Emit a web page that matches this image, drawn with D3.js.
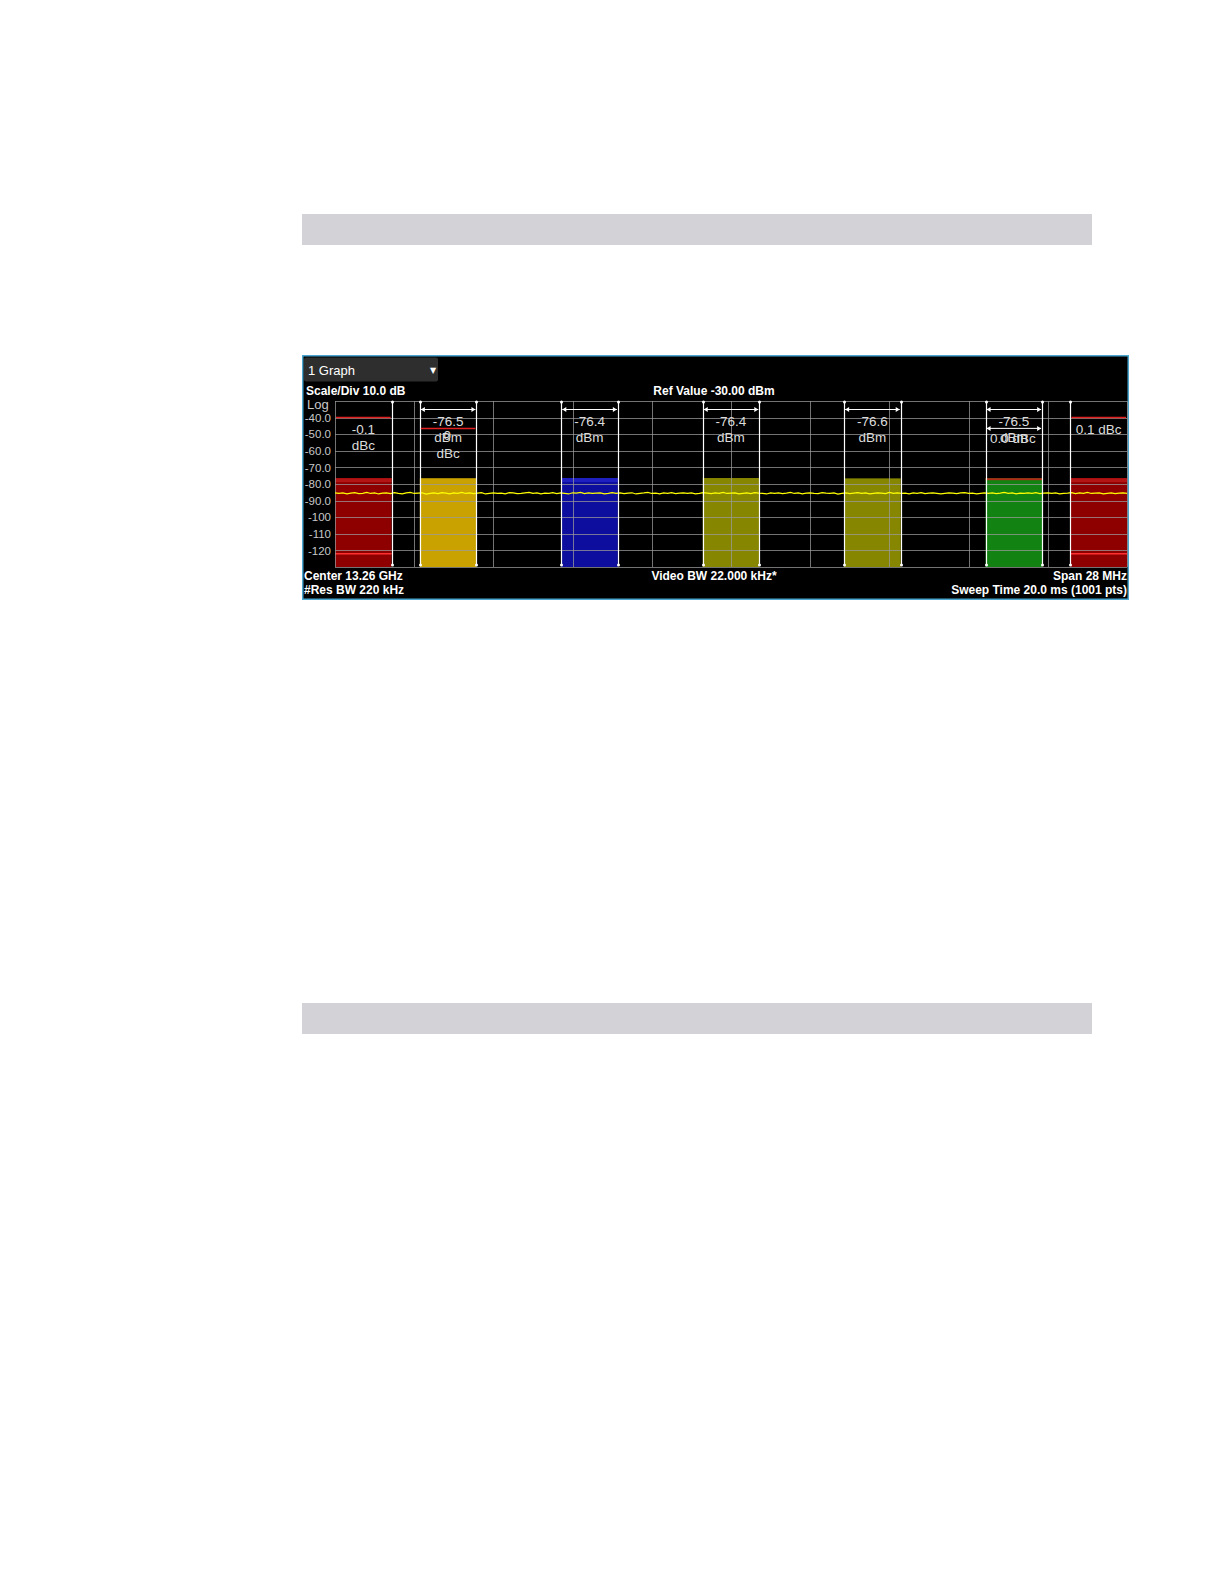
<!DOCTYPE html>
<meta charset="utf-8">
<script src="https://d3js.org/d3.v7.min.js"></script>
<style>
  body { margin: 0; background: #fff; }
</style>
<div id="vis"></div>
<script type="text/javascript">

// display settings
var refValue = -30,
    scaleDiv = 10,
    spanMHz = 28;

var yTicks = [-40, -50, -60, -70, -80, -90, -100, -110, -120];
var yTickLabels = ["-40.0", "-50.0", "-60.0", "-70.0", "-80.0", "-90.0", "-100", "-110", "-120"];

// channels: frequency offsets (MHz from center) and measured levels
var chanStart = [-14, -11, -6, -1, 4, 9, 12];
var chanStop  = [-12, -9, -4, 1, 6, 11, 14];
var chanPower = [-76.5, -76.5, -76.4, -76.4, -76.6, -76.5, -76.5];
var chanLimit = [-40, -46.5, null, null, null, null, -40];
var chanText = [
  ["-0.1", "dBc"],
  ["-76.5", "dBm", "dBc"],
  ["-76.4", "dBm"],
  ["-76.4", "dBm"],
  ["-76.6", "dBm"],
  ["-76.5", "dBm"],
  ["0.1 dBc"]
];
var chanFill = ["#8e0000", "#c9a200", "#0d0d9e", "#868600", "#868600", "#128212", "#8e0000"];

// yellow trace (dBm), left to right
var trace = [
  -85.4, -85.7, -85.3, -85.9, -85.5, -85.2, -85.8, -85.6, -85.1, -85.7,
  -85.4, -86.0, -85.5, -85.3, -85.8, -85.2, -85.6, -85.9, -85.4, -85.0,
  -85.7, -85.5, -85.3, -86.1, -85.6, -85.4, -85.8, -85.2, -85.5, -85.9,
  -85.3, -85.6, -85.1, -85.7, -85.4, -85.8, -85.5, -85.2, -86.0, -85.6,
  -85.3, -85.7, -85.5, -85.9, -85.2, -85.4, -85.8, -85.6, -85.3, -85.0,
  -85.6, -85.4, -85.9, -85.5, -85.7, -85.2, -85.8, -85.4, -85.6, -86.0,
  -85.3, -85.5, -85.1, -85.8, -85.4, -85.7, -85.5, -85.3, -85.9, -85.6,
  -85.2, -85.7, -85.4, -85.8, -85.5, -85.3, -86.0, -85.6, -85.4, -85.1,
  -85.7, -85.5, -85.9, -85.3, -85.6, -85.2, -85.8, -85.5, -85.4, -85.7,
  -85.3, -85.9, -85.6, -85.2, -85.5, -85.8, -85.4, -85.6, -85.0, -85.7,
  -85.5, -85.3, -85.9, -85.6, -85.4, -85.8, -85.2, -85.5, -85.7, -86.0,
  -85.4, -85.6, -85.3, -85.8, -85.5, -85.1, -85.7, -85.4, -85.9, -85.5,
  -85.3, -85.6, -85.8, -85.2, -85.5, -85.7, -85.4, -86.1, -85.6, -85.3,
  -85.8, -85.5, -85.2, -85.7, -85.4, -85.9, -85.6, -85.3, -85.5, -85.8,
  -85.1, -85.6, -85.4, -85.7, -85.5, -85.9, -85.3, -85.6, -85.2, -85.8,
  -85.5, -85.4, -85.7, -86.0, -85.6, -85.3, -85.5, -85.8, -85.4, -85.2,
  -85.7, -85.5, -85.9, -85.6, -85.3, -85.7, -85.4, -85.8, -85.5, -85.1,
  -85.6, -85.4, -85.9, -85.5, -85.7, -85.3, -85.6, -85.2, -85.8, -85.5,
  -85.4, -85.7, -85.3, -85.9, -85.6, -85.5, -85.2, -85.8, -85.4, -85.6,
  -85.0, -85.7, -85.5, -85.3, -85.9, -85.6, -85.4, -85.8, -85.5, -85.3, -85.6
];

var W = 1224, H = 1584;

var svg = d3.select("#vis")
  .append("svg")
    .attr("width", W)
    .attr("height", H)
    .style("display", "block");

// gray section bars of the page
[214, 1003].forEach(function(y0) {
  svg.append("rect")
    .attr("x", 302).attr("y", y0)
    .attr("width", 790).attr("height", 31)
    .attr("fill", "#d3d3d7");
});

// instrument window
var win = {x: 302, y: 355, w: 827, h: 245};
svg.append("rect")
  .attr("x", win.x + 0.75).attr("y", win.y + 0.75)
  .attr("width", win.w - 1.5).attr("height", win.h - 1.5)
  .attr("fill", "#000")
  .attr("stroke", "#4aa6cf")
  .attr("stroke-width", 1.5);

// "1 Graph" dropdown
svg.append("rect")
  .attr("x", 304).attr("y", 357.5)
  .attr("width", 134).attr("height", 24)
  .attr("rx", 2)
  .attr("fill", "#2e2e2e");
svg.append("text")
  .attr("x", 308).attr("y", 375)
  .attr("fill", "#fff")
  .style("font", "13px 'Liberation Sans', Arial, sans-serif")
  .text("1 Graph");
svg.append("text")
  .attr("x", 430).attr("y", 373)
  .attr("fill", "#fff")
  .style("font", "8px 'DejaVu Sans', sans-serif")
  .text("▼");

var bold = "bold 12px 'Liberation Sans', Arial, sans-serif";

svg.append("text").attr("x", 306).attr("y", 395)
  .attr("fill", "#fff").style("font", bold)
  .text("Scale/Div " + scaleDiv.toFixed(1) + " dB");
svg.append("text").attr("x", 714).attr("y", 395)
  .attr("fill", "#fff").style("font", bold).attr("text-anchor", "middle")
  .text("Ref Value " + refValue.toFixed(2) + " dBm");

// plot area
var plot = {left: 335, right: 1127, top: 401, bottom: 567};

var x = d3.scaleLinear()
  .domain([-spanMHz / 2, spanMHz / 2])
  .range([plot.left, plot.right]);

var y = d3.scaleLinear()
  .domain([refValue - 10 * scaleDiv, refValue])
  .range([plot.bottom, plot.top]);

// left axis labels
var yAxis = svg.append("g")
  .attr("transform", "translate(" + (plot.left - 4) + ",0)")
  .call(d3.axisLeft(y)
    .tickValues(yTicks)
    .tickSize(0)
    .tickPadding(0)
    .tickFormat(function(d, i) { return yTickLabels[i]; }));
yAxis.select(".domain").remove();
yAxis.selectAll("text")
  .attr("fill", "#c8c8c8")
  .style("font", "11.5px 'Liberation Sans', Arial, sans-serif");

svg.append("text").attr("x", 307).attr("y", 409)
  .attr("fill", "#c8c8c8")
  .style("font", "13px 'Liberation Sans', Arial, sans-serif")
  .text("Log");

// channel bars
var chans = chanStart.map(function(s, i) {
  return {lo: s, hi: chanStop[i], p: chanPower[i], lim: chanLimit[i],
          txt: chanText[i], fill: chanFill[i], adj: (i === 0 || i === chanStart.length - 1)};
});

var bars = svg.append("g");
bars.selectAll("rect.bar").data(chans).enter().append("rect")
  .attr("class", "bar")
  .attr("x", function(d) { return x(d.lo); })
  .attr("y", function(d) { return y(d.p); })
  .attr("width", function(d) { return x(d.hi) - x(d.lo); })
  .attr("height", function(d) { return plot.bottom - y(d.p); })
  .attr("fill", function(d) { return d.fill; });

// lighter band on top of the adjacent and blue bars, red cap on the green one
bars.selectAll("rect.cap").data(chans).enter().append("rect")
  .attr("x", function(d) { return x(d.lo); })
  .attr("y", function(d) { return y(d.p); })
  .attr("width", function(d) { return x(d.hi) - x(d.lo); })
  .attr("height", function(d, i) { return i === 5 ? 2 : 4; })
  .attr("fill", function(d, i) {
    return d.adj ? "#b31414" : i === 2 ? "#2020c0" : i === 5 ? "#b02a18" : "none";
  });

// bright red line low in the adjacent bars
bars.selectAll("line.low").data(chans.filter(function(d) { return d.adj; }))
  .enter().append("line")
  .attr("x1", function(d) { return x(d.lo); })
  .attr("x2", function(d) { return x(d.hi); })
  .attr("y1", y(-122)).attr("y2", y(-122))
  .attr("stroke", "#ff3030").attr("stroke-width", 1.5);

// graticule over the bars
var grid = svg.append("g").attr("stroke", "#9a9a9a").attr("stroke-opacity", 0.75).attr("stroke-width", 1);
grid.selectAll("line.h").data(d3.range(0, 11)).enter().append("line")
  .attr("x1", plot.left).attr("x2", plot.right)
  .attr("y1", function(k) { return Math.round(y(refValue - k * scaleDiv)) + 0.5; })
  .attr("y2", function(k) { return Math.round(y(refValue - k * scaleDiv)) + 0.5; });
grid.selectAll("line.v").data(d3.range(0, 11)).enter().append("line")
  .attr("x1", function(k) { return Math.round(x(-spanMHz / 2 + k * spanMHz / 10)) + 0.5; })
  .attr("x2", function(k) { return Math.round(x(-spanMHz / 2 + k * spanMHz / 10)) + 0.5; })
  .attr("y1", plot.top).attr("y2", plot.bottom);

// trace
var xi = d3.scaleLinear().domain([0, trace.length - 1]).range(x.domain());
svg.append("path")
  .datum(trace)
  .attr("fill", "none")
  .attr("stroke", "#ffff00")
  .attr("stroke-width", 1.2)
  .attr("d", d3.line()
    .x(function(d, i) { return x(xi(i)); })
    .y(function(d) { return y(d); }));

// channel edge markers (white)
var edges = [];
chans.forEach(function(d, i) {
  if (i === 0) edges.push(d.hi);
  else if (i === chans.length - 1) edges.push(d.lo);
  else { edges.push(d.lo); edges.push(d.hi); }
});
var marks = svg.append("g");
marks.selectAll("line.edge").data(edges).enter().append("line")
  .attr("x1", function(d) { return Math.round(x(d)) + 0.5; })
  .attr("x2", function(d) { return Math.round(x(d)) + 0.5; })
  .attr("y1", plot.top + 1).attr("y2", plot.bottom - 2)
  .attr("stroke", "#fff").attr("stroke-width", 1.2);
marks.selectAll("circle.top").data(edges).enter().append("circle")
  .attr("cx", function(d) { return Math.round(x(d)) + 0.5; })
  .attr("cy", plot.top + 1).attr("r", 1.5).attr("fill", "#fff");
marks.selectAll("circle.bot").data(edges).enter().append("circle")
  .attr("cx", function(d) { return Math.round(x(d)) + 0.5; })
  .attr("cy", plot.bottom - 2).attr("r", 1.5).attr("fill", "#fff");

// bandwidth brackets with arrow heads
function bracket(lo, hi, yy) {
  var x0 = x(lo) + 1, x1 = x(hi) - 1;
  marks.append("line").attr("x1", x0).attr("x2", x1).attr("y1", yy).attr("y2", yy)
    .attr("stroke", "#fff").attr("stroke-width", 1);
  marks.append("path")
    .attr("d", "M" + x0 + "," + yy + "l4,-2.5v5z M" + x1 + "," + yy + "l-4,-2.5v5z")
    .attr("fill", "#fff");
}
chans.forEach(function(d, i) {
  if (!d.adj) bracket(d.lo, d.hi, plot.top + 8.5);
});
bracket(chans[5].lo, chans[5].hi, y(-46.5));

// red limit lines
svg.selectAll("line.lim").data(chans.filter(function(d) { return d.lim !== null; }))
  .enter().append("line")
  .attr("x1", function(d) { return x(d.lo) + 1; })
  .attr("x2", function(d) { return x(d.hi) - 1; })
  .attr("y1", function(d) { return y(d.lim); })
  .attr("y2", function(d) { return y(d.lim); })
  .attr("stroke", "#e02020").attr("stroke-width", 1.5);

// channel readouts
var thin = "13.5px 'Liberation Sans', Arial, sans-serif";
var txt = svg.append("g")
  .attr("fill", "#dcdcdc")
  .attr("text-anchor", "middle")
  .style("font", thin);

chans.forEach(function(d, i) {
  var cx = (x(d.lo) + x(d.hi)) / 2;
  var y0 = d.adj ? 434 : 426;
  d.txt.forEach(function(s, k) {
    txt.append("text").attr("x", cx).attr("y", y0 + k * 16.2).text(s);
  });
});
// overlapping relative readouts on carriers 1 and 5, as on the screen
txt.append("text").attr("x", (x(-11) + x(-9)) / 2 - 1).attr("y", 440).text("0");
txt.append("text").attr("x", (x(9) + x(11)) / 2 - 1).attr("y", 443).text("0.0 dBc");

// bottom annotations
svg.append("text").attr("x", 304).attr("y", 580)
  .attr("fill", "#fff").style("font", bold).text("Center 13.26 GHz");
svg.append("text").attr("x", 304).attr("y", 594)
  .attr("fill", "#fff").style("font", bold).text("#Res BW 220 kHz");
svg.append("text").attr("x", 714).attr("y", 580)
  .attr("fill", "#fff").style("font", bold).attr("text-anchor", "middle")
  .text("Video BW 22.000 kHz*");
svg.append("text").attr("x", 1127).attr("y", 580)
  .attr("fill", "#fff").style("font", bold).attr("text-anchor", "end")
  .text("Span " + spanMHz + " MHz");
svg.append("text").attr("x", 1127).attr("y", 594)
  .attr("fill", "#fff").style("font", bold).attr("text-anchor", "end")
  .text("Sweep Time 20.0 ms (1001 pts)");

</script>
